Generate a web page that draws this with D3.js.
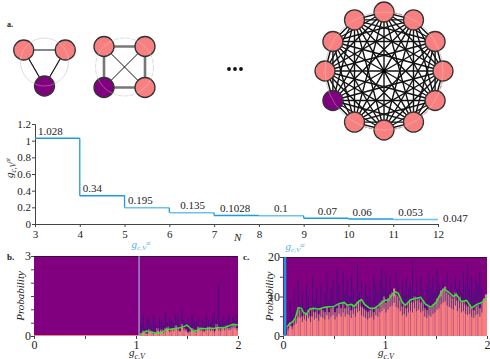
<!DOCTYPE html>
<html><head><meta charset="utf-8">
<script src="https://cdn.jsdelivr.net/npm/d3@7"></script>
<style>
body{margin:0;background:#fff}
svg{display:block}
text{font-family:"Liberation Serif","Times New Roman",Times,serif;fill:#222}
</style>
</head><body>
<svg id="chart" width="490" height="359"></svg>
<script>
// ---------- DATA ----------
const nValues = [3,4,5,6,7,8,9,10,11,12];
const gcAt = [1.028,0.34,0.195,0.135,0.1028,0.1,0.07,0.06,0.053,0.047];
const gcAtLabels = ["1.028","0.34","0.195","0.135","0.1028","0.1","0.07","0.06","0.053","0.047"];
const stepYTicks = [0,0.2,0.4,0.6,0.8,1,1.2];
const stepXTicks = [3,4,5,6,7,8,9,10,11,12];

// panel b (bins of width 0.02 starting at 1.04)
const bStart = 1.04, binW = 0.02;
const bSalmon = [0.1,0.2,0.15,0.1,0.25, 0.2,0.1,0.15,0.3,0.2, 0.25,0.15,0.3,0.35,0.2, 0.3,0.25,0.4,0.3,0.2,
  0.45,0.3,0.25,0.15,0.2, 0.3,0.25,0.2,0.35,0.3, 0.25,0.2,0.3,0.35,0.25, 0.3,0.2,0.45,0.3,0.25,
  0.35,0.3,0.4,0.3,0.35, 0.45,0.4,0.3];
const bSpike = [0.5,0.8,0.3,0.7,0.6, 0.4,0.8,0.5,0.3,0.7, 0.6,0.4,0.9,0.5,0.7, 0.6,0.5,0.8,0.7,0.4,
  1.0,0.6,0.5,0.7,0.4, 0.8,0.6,0.5,0.7,0.4, 0.6,0.5,0.8,0.6,0.5, 0.7,0.9,0.6,2.0,0.5,
  0.7,0.5,0.6,0.8,0.5, 0.7,0.6,0.8];
const bMeanX = [1.04,1.07,1.1,1.14,1.18,1.22,1.26,1.3,1.34,1.38,1.43,1.47,1.5,1.53,1.56,1.6,1.63,1.68,1.72,1.76,1.8,1.85,1.9,1.95,2.0];
const bMeanY = [0.04,0.12,0.19,0.15,0.12,0.1,0.15,0.26,0.24,0.28,0.31,0.35,0.41,0.3,0.16,0.22,0.29,0.27,0.3,0.28,0.32,0.3,0.36,0.44,0.41];
const bThreshold = 1.03;

// panel c (bins of width 0.02 starting at 0.04)
const cStart = 0.04;
const cSalmon = [2,3.5,2.5,4,4.5, 7,6.5,5,6,5.5, 6.5,5,7,6,6.5, 5.5,7,6.5,6,7.5, 6,7,7.5,6,7,
  8,7,8.5,7,8, 7.5,6.5,8,7,8.5, 9,7.5,7,6.5,6, 6.5,7,6,7.5,7, 8.5,9,10,8.5,9.5,
  10.5,11,12,10.5,10, 9,7.5,8,7,8.5, 9,8.5,10,9,9.5, 8.5,9,7,6.5,7.5, 7,8,8.5,9.5,10,
  11.5,12,12.5,11,10.5, 10,9.5,11,9,10, 8.5,9,8,7.5,8, 7,6.5,7.5,8,7, 8.5,9.5,10.5];
const cSpike = [4,9,6,12,5, 14,8,11,7,13, 10,6,15,9,12, 8,13,7,11,16, 9,12,14,8,17,
  13,9,16,11,14, 10,15,12,9,18, 11,14,8,13,10, 12,9,15,13,11, 14,17,12,16,11,
  15,12,10,16,13, 9,14,11,15,12, 13,19,11,14,10, 15,12,9,13,16, 12,15,11,17,13,
  10,14,12,16,11, 13,10,15,12,14, 11,16,13,18, 12,15,11,14, 13,16,12];
const cMeanX = [0.04,0.06,0.09,0.12,0.15,0.18,0.2,0.23,0.26,0.3,0.35,0.4,0.45,0.5,0.55,0.6,0.63,0.67,0.7,0.73,0.77,0.8,0.85,0.9,0.95,1.0,1.03,1.07,1.1,1.13,1.17,1.2,1.25,1.3,1.35,1.4,1.45,1.5,1.55,1.58,1.63,1.67,1.7,1.75,1.8,1.85,1.9,1.95,2.0];
const cMeanY = [2.2,3.0,3.5,4.5,7.2,7.0,6.0,5.5,6.8,7.0,6.8,7.2,7.4,7.5,8.2,8.5,7.8,8.0,7.5,8.5,9.2,8.0,7.0,7.0,8.0,9.1,9.0,10.5,11.2,10.8,8.5,7.8,9.2,9.5,9.8,8.0,7.3,8.5,11.0,11.9,11.0,10.0,10.5,8.7,9.0,7.1,8.0,8.5,10.0];
const cThreshold = 0.02;

// ---------- STYLE ----------
const PURPLE = "#800080", SALMON = "#f98080", NAVY = "#1c1c80", MAUVE = "#7a2a8a", GREEN = "#33e633", BLUE = "#1e9be0", LBLUE = "#6cc3ee";
const segColors = [BLUE,BLUE,LBLUE,LBLUE,BLUE,LBLUE,BLUE,BLUE,LBLUE];
const labelDx = [3,3,3.5,11,6,15,14,4,5,5];

const svg = d3.select("#chart");

// ---------- PANEL a: networks ----------
const gA = svg.append("g");
gA.append("text").attr("x",7).attr("y",27).attr("font-size",8).attr("font-weight","bold").text("a.");

function drawNet(cx, cy, R, n, startDeg, purpleIdx, edgeFn, ringFn, nodeR) {
  const g = gA.append("g");
  const pts = d3.range(n).map(i => {
    const a = (startDeg + i * 360 / n) * Math.PI / 180;
    return [cx + R * Math.cos(a), cy + R * Math.sin(a)];
  });
  ringFn(g, cx, cy, R);
  for (let i = 0; i < n; i++) for (let j = i + 1; j < n; j++) {
    const st = edgeFn(i, j);
    if (!st) continue;
    g.append("line").attr("x1",pts[i][0]).attr("y1",pts[i][1]).attr("x2",pts[j][0]).attr("y2",pts[j][1])
      .attr("stroke",st.c).attr("stroke-width",st.w);
  }
  pts.forEach((p, i) => {
    g.append("circle").attr("cx",p[0]).attr("cy",p[1]).attr("r",nodeR)
      .attr("fill", i === purpleIdx ? PURPLE : SALMON).attr("stroke","#333").attr("stroke-width",1.3);
  });
  g.append("circle").attr("cx",cx).attr("cy",cy).attr("r",R).attr("fill","none")
    .attr("stroke","#ddd").attr("stroke-width",0.6).attr("opacity",0.6);
}

drawNet(44.5, 62, 24, 3, -150, 2,
  () => ({c:"#111", w:1.2}),
  (g,cx,cy,R) => g.append("circle").attr("cx",cx).attr("cy",cy).attr("r",R).attr("fill","none").attr("stroke","#e2e2e2").attr("stroke-width",1),
  10);
drawNet(124.5, 67, 29, 4, -135, 3,
  (i,j) => (Math.abs(i-j) === 2) ? {c:"#111", w:1} : {c:"#777", w:2.6},
  (g,cx,cy,R) => g.append("circle").attr("cx",cx).attr("cy",cy).attr("r",R).attr("fill","none").attr("stroke","#e0e0e0").attr("stroke-width",1).attr("stroke-dasharray","4,2"),
  10);
[229,235,241].forEach(x => gA.append("circle").attr("cx",x).attr("cy",69).attr("r",1.9).attr("fill","#111"));
drawNet(384, 71, 59, 12, -90, 8,
  () => ({c:"#111", w:1.4}),
  (g,cx,cy,R) => {
    g.append("circle").attr("cx",cx).attr("cy",cy).attr("r",R).attr("fill","none").attr("stroke","#cfcfcf").attr("stroke-width",1);
    [[-80,-55],[-10,115]].forEach(([a0,a1]) => {
      const p = d3.path();
      p.arc(cx, cy, R, a0*Math.PI/180, a1*Math.PI/180);
      g.append("path").attr("d",p.toString()).attr("fill","none").attr("stroke","#e83a3a").attr("stroke-width",0.8).attr("stroke-dasharray","3,2");
    });
  },
  10);
gA.append("circle").attr("cx",384).attr("cy",71).attr("r",2.2).attr("fill","#000");

// ---------- STEP CHART ----------
const xs = d3.scaleLinear().domain([3,12]).range([35,438]);
const ys = d3.scaleLinear().domain([0,1.2]).range([224,124]);
const gS = svg.append("g");
const axY = gS.append("g").attr("transform","translate(35,0)")
  .call(d3.axisLeft(ys).tickValues(stepYTicks).tickSize(3).tickFormat(d => String(d)));
const axX = gS.append("g").attr("transform","translate(0,224)")
  .call(d3.axisBottom(xs).tickValues(stepXTicks).tickSize(3).tickFormat(d => String(d)));
[axY, axX].forEach(a => {
  a.selectAll("path,line").attr("stroke","#444");
  a.selectAll("text").attr("font-size",11).attr("fill","#222");
});
axY.selectAll("text").attr("x",-4);
axX.selectAll("text").attr("y",6);

for (let i = 0; i < nValues.length - 1; i++) {
  gS.append("line").attr("x1",xs(nValues[i])).attr("x2",xs(nValues[i+1]))
    .attr("y1",ys(gcAt[i])).attr("y2",ys(gcAt[i])).attr("stroke",segColors[i]).attr("stroke-width",1.5);
  if (i < nValues.length - 2) {
    gS.append("line").attr("x1",xs(nValues[i+1])).attr("x2",xs(nValues[i+1]))
      .attr("y1",ys(gcAt[i])).attr("y2",ys(gcAt[i+1])).attr("stroke",BLUE).attr("stroke-width",1.3);
  }
}
gcAtLabels.forEach((t, i) => {
  const last = i === gcAtLabels.length - 1;
  gS.append("text").attr("x", xs(nValues[i]) + labelDx[i])
    .attr("y", last ? ys(gcAt[i]) + 2 : ys(gcAt[i]) - 3.5)
    .attr("font-size",11).text(t);
});
gS.append("text").attr("x",234).attr("y",241).attr("font-size",11).attr("font-style","italic").text("N");
const yl = gS.append("text").attr("transform","translate(13,178) rotate(-90)").attr("font-size",11).attr("font-style","italic");
yl.append("tspan").text("g");
yl.append("tspan").attr("dy",3).attr("font-size",7.5).text("c,V");
yl.append("tspan").attr("dy",-6).attr("font-size",6).text("at");

// ---------- BOTTOM PANELS ----------
function panel(opts) {
  const g = svg.append("g");
  const x = d3.scaleLinear().domain([0,2]).range(opts.xr);
  const y = d3.scaleLinear().domain([0,opts.ymax]).range(opts.yr);
  g.append("rect").attr("x",opts.xr[0]).attr("y",opts.yr[1]).attr("width",opts.xr[1]-opts.xr[0])
    .attr("height",opts.yr[0]-opts.yr[1]).attr("fill",PURPLE);
  g.append("line").attr("x1",opts.xr[0]).attr("x2",opts.xr[1]).attr("y1",opts.yr[1]+0.5).attr("y2",opts.yr[1]+0.5)
    .attr("stroke","#3a0a3a").attr("stroke-width",1);
  const bins = opts.salmon.map((v,i) => ({x0: opts.start + i*binW, v}));
  const areaPts = [];
  bins.forEach(b => { areaPts.push([b.x0, b.v]); areaPts.push([Math.min(2, b.x0 + binW), b.v]); });
  g.append("path").attr("d", d3.area().x(d => x(d[0])).y0(y(0)).y1(d => y(d[1]))(areaPts))
    .attr("fill",SALMON);
  g.append("line").attr("x1",opts.xr[0]).attr("x2",opts.xr[1]).attr("y1",opts.yr[0]-0.5).attr("y2",opts.yr[0]-0.5)
    .attr("stroke",SALMON).attr("stroke-width",1);
  // spikes: dark part above the salmon, faint part inside it
  opts.spike.forEach((v,i) => {
    const xc = x(opts.start + i*binW + binW/2);
    const s = opts.salmon[i];
    if (i % 3 !== 1) {
      g.append("line").attr("x1",xc).attr("x2",xc).attr("y1",y(0)).attr("y2",y(s))
        .attr("stroke",MAUVE).attr("stroke-width",0.8).attr("opacity",i % 3 === 0 ? 0.55 : 0.3);
    }
    g.append("line").attr("x1",xc).attr("x2",xc).attr("y1",y(s*0.7)).attr("y2",y(v))
      .attr("stroke",NAVY).attr("stroke-width",0.9).attr("opacity",0.75);
  });
  g.append("line").attr("x1",x(opts.thr)).attr("x2",x(opts.thr)).attr("y1",opts.yr[0]).attr("y2",opts.yr[1])
    .attr("stroke",opts.thrColor).attr("stroke-width",opts.thrW);
  g.append("path").attr("d", d3.line().x((d,i) => x(opts.mx[i])).y(d => y(d))(opts.my))
    .attr("fill","none").attr("stroke",GREEN).attr("stroke-width",1.5);
  const ax = g.append("g").attr("transform",`translate(${opts.xr[0]},0)`)
    .call(d3.axisLeft(y).tickValues(opts.yTicks).tickSize(3).tickFormat(d => opts.yLabels.includes(d) ? String(d) : ""));
  const bx = g.append("g").attr("transform",`translate(0,${opts.yr[0]})`)
    .call(d3.axisBottom(x).tickValues([0,0.5,1,1.5,2]).tickSize(3).tickFormat(d => Number.isInteger(d) ? String(d) : ""));
  [ax,bx].forEach(a => {
    a.select(".domain").remove();
    a.selectAll("line").attr("stroke","#444");
    a.selectAll("text").attr("font-size",12).attr("fill","#222");
  });
  ax.selectAll("text").attr("x",-3);
  bx.selectAll("text").attr("y",4);
  g.append("text").attr("transform",`translate(${opts.xr[0]-10},${(opts.yr[0]+opts.yr[1])/2}) rotate(-90)`)
    .attr("text-anchor","middle").attr("font-size",11).attr("font-style","italic").text("Probability");
  const xl = g.append("text").attr("x",x(1)-7).attr("y",356).attr("font-size",11).attr("font-style","italic");
  xl.append("tspan").text("g");
  xl.append("tspan").attr("dy",2.5).attr("font-size",8).text("c,V");
  const tl = g.append("text").attr("x",x(opts.thr)+opts.thrLabelDx).attr("y",opts.thrLabelY).attr("font-size",11)
    .attr("font-style","italic").attr("text-anchor","middle");
  tl.append("tspan").attr("fill","#4fb3e6").text("g");
  tl.append("tspan").attr("fill","#4fb3e6").attr("dy",2).attr("font-size",7).text("c,V");
  tl.append("tspan").attr("fill","#4fb3e6").attr("dy",-5).attr("font-size",5.5).text("at");
  g.append("text").attr("x",opts.tagX).attr("y",260).attr("font-size",9).attr("font-weight","bold").text(opts.tag);
}

panel({xr:[34,238], yr:[336,256], ymax:3, start:bStart, salmon:bSalmon, spike:bSpike, mx:bMeanX, my:bMeanY,
  thr:bThreshold, thrColor:"#9fd3f2", thrW:1, thrLabelDx:2, thrLabelY:248,
  yTicks:[0,0.5,1,1.5,2,2.5,3], yLabels:[0,3], tag:"b.", tagX:7});
panel({xr:[283,487], yr:[336,257], ymax:20, start:cStart, salmon:cSalmon, spike:cSpike, mx:cMeanX, my:cMeanY,
  thr:cThreshold, thrColor:"#1f95dc", thrW:2.5, thrLabelDx:10, thrLabelY:250,
  yTicks:[0,5,10,15,20], yLabels:[0,10,20], tag:"c.", tagX:243});
</script>
</body></html>
